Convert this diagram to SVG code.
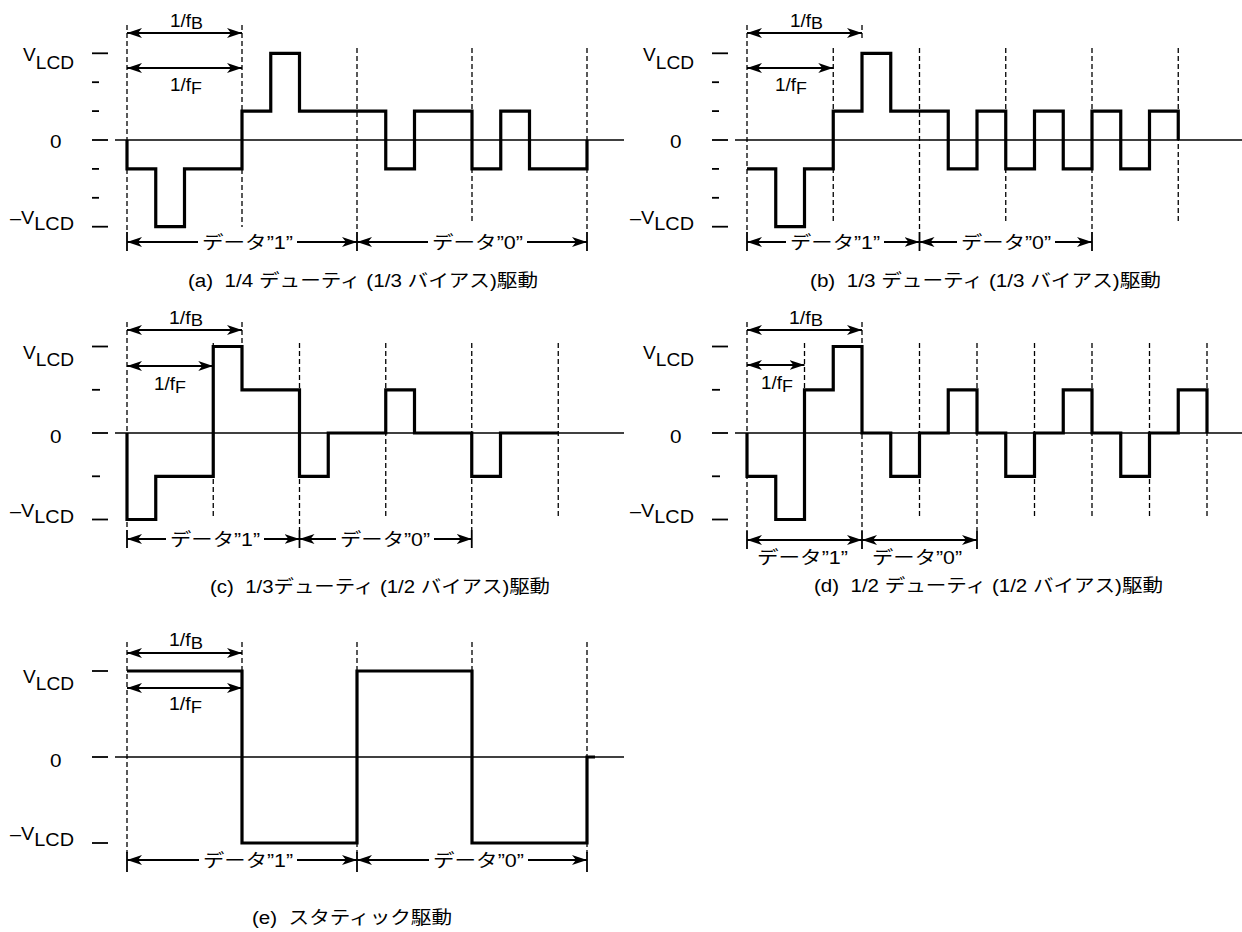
<svg xmlns="http://www.w3.org/2000/svg" width="1242" height="932" viewBox="0 0 1242 932">
<style>
.wave{fill:none;stroke:#000;stroke-width:3.2;stroke-linejoin:miter}
.ax{stroke:#000;stroke-width:1.5}
.tk{stroke:#000;stroke-width:1.8}
.dl{stroke:#000;stroke-width:1.3;stroke-dasharray:5 3}
.ar{stroke:#000;stroke-width:1.8;fill:none}
.a2{marker-start:url(#ah);marker-end:url(#ah)}
.as{marker-start:url(#ah)}
.ae{marker-end:url(#ah)}
text{font-family:"Liberation Sans","Noto Sans CJK JP",sans-serif;fill:#000}
.t{font-size:18px}
.f{font-size:17.5px}
.s{font-size:16.5px}
.c{font-size:18px}
.j{font-family:"Noto Sans CJK JP","Liberation Sans",sans-serif;font-size:18px}
</style>
<defs>
<marker id="ah" viewBox="0 0 15 10" refX="15" refY="5" markerWidth="15" markerHeight="10" markerUnits="userSpaceOnUse" orient="auto-start-reverse">
<path d="M0,0 L15,5 L0,10 L4,5 Z" fill="#000"/>
</marker>
</defs>

<!-- Panel (a) -->
<g id="panel-a">
<g id="a-axis">
<line class="tk" x1="92" y1="53.3" x2="108" y2="53.3"/>
<line class="tk" x1="92" y1="82.2" x2="99" y2="82.2"/>
<line class="tk" x1="92" y1="111.1" x2="99" y2="111.1"/>
<line class="tk" x1="92" y1="140" x2="108" y2="140"/>
<line class="tk" x1="92" y1="168.9" x2="99" y2="168.9"/>
<line class="tk" x1="92" y1="197.8" x2="99" y2="197.8"/>
<line class="tk" x1="92" y1="226.7" x2="108" y2="226.7"/>
<line class="ax" x1="115" y1="140" x2="624" y2="140"/>
<text class="t" x="23" y="61" textLength="51" lengthAdjust="spacingAndGlyphs">V<tspan dy="8">LCD</tspan></text>
<text class="t" x="50" y="148" textLength="11.5" lengthAdjust="spacingAndGlyphs">0</text>
<text class="t" x="10" y="224" textLength="64" lengthAdjust="spacingAndGlyphs">–V<tspan dy="6">LCD</tspan></text>
</g>
<g id="a-grid">
<line class="dl" x1="127" y1="25" x2="127" y2="232"/>
<line class="dl" x1="242" y1="25" x2="242" y2="227"/>
<line class="dl" x1="357" y1="48" x2="357" y2="232"/>
<line class="dl" x1="472" y1="48" x2="472" y2="223"/>
<line class="dl" x1="587" y1="48" x2="587" y2="232"/>
</g>
<path id="a-wave" class="wave" d="M127,140 V168.9 H155.75 V226.7 H184.5 V168.9 H242 V111.1 H270.75 V53.3 H299.5 V111.1 H385.75 V168.9 H414.5 V111.1 H472 V168.9 H500.75 V111.1 H529.5 V168.9 H587 V140"/>
<g id="a-dims">
<line class="ar a2" x1="127" y1="33" x2="242" y2="33"/>
<text class="f" x="170" y="26.5" textLength="33" lengthAdjust="spacingAndGlyphs">1/f<tspan class="s" dy="2.5">B</tspan></text>
<line class="ar a2" x1="127" y1="68" x2="242" y2="68"/>
<text class="f" x="170" y="91" textLength="32" lengthAdjust="spacingAndGlyphs">1/f<tspan class="s" dy="3">F</tspan></text>
<line class="tk" x1="127" y1="232" x2="127" y2="251"/>
<line class="tk" x1="357" y1="232" x2="357" y2="251"/>
<line class="tk" x1="587" y1="232" x2="587" y2="251"/>
<line class="ar as" x1="127" y1="242" x2="198" y2="242"/>
<line class="ar ae" x1="297" y1="242" x2="357" y2="242"/>
<text class="c" x="202" y="249" textLength="91" lengthAdjust="spacingAndGlyphs"><tspan class="j">データ</tspan>”1”</text>
<line class="ar as" x1="357" y1="242" x2="428" y2="242"/>
<line class="ar ae" x1="527" y1="242" x2="587" y2="242"/>
<text class="c" x="432" y="249" textLength="91" lengthAdjust="spacingAndGlyphs"><tspan class="j">データ</tspan>”0”</text>
</g>
<text id="a-cap" class="c" xml:space="preserve" x="188" y="287" textLength="350" lengthAdjust="spacingAndGlyphs">(a)  1/4 <tspan class="j">デューティ</tspan> (1/3 <tspan class="j">バイアス</tspan>)<tspan class="j">駆動</tspan></text>
</g>

<!-- Panel (b) -->
<g id="panel-b">
<g id="b-axis">
<line class="tk" x1="712" y1="53.3" x2="728" y2="53.3"/>
<line class="tk" x1="712" y1="82.2" x2="719" y2="82.2"/>
<line class="tk" x1="712" y1="111.1" x2="719" y2="111.1"/>
<line class="tk" x1="712" y1="140" x2="728" y2="140"/>
<line class="tk" x1="712" y1="168.9" x2="719" y2="168.9"/>
<line class="tk" x1="712" y1="197.8" x2="719" y2="197.8"/>
<line class="tk" x1="712" y1="226.7" x2="728" y2="226.7"/>
<line class="ax" x1="735" y1="140" x2="1242" y2="140"/>
<text class="t" x="643" y="61" textLength="51" lengthAdjust="spacingAndGlyphs">V<tspan dy="8">LCD</tspan></text>
<text class="t" x="670" y="148" textLength="11.5" lengthAdjust="spacingAndGlyphs">0</text>
<text class="t" x="630" y="224" textLength="64" lengthAdjust="spacingAndGlyphs">–V<tspan dy="6">LCD</tspan></text>
</g>
<g id="b-grid">
<line class="dl" x1="747" y1="25" x2="747" y2="232"/>
<line class="dl" x1="833.25" y1="48" x2="833.25" y2="223"/>
<line class="dl" x1="862" y1="25" x2="862" y2="38"/>
<line class="dl" x1="919.5" y1="48" x2="919.5" y2="232"/>
<line class="dl" x1="1005.75" y1="48" x2="1005.75" y2="223"/>
<line class="dl" x1="1092" y1="48" x2="1092" y2="232"/>
<line class="dl" x1="1178.25" y1="48" x2="1178.25" y2="223"/>
</g>
<path id="b-wave" class="wave" d="M747,168.9 H775.75 V226.7 H804.5 V168.9 H833.25 V111.1 H862 V53.3 H890.75 V111.1 H948.25 V168.9 H977 V111.1 H1005.75 V168.9 H1034.5 V111.1 H1063.25 V168.9 H1092 V111.1 H1120.75 V168.9 H1149.5 V111.1 H1178.25 V140"/>
<g id="b-dims">
<line class="ar a2" x1="747" y1="33" x2="862" y2="33"/>
<text class="f" x="790" y="26.5" textLength="33" lengthAdjust="spacingAndGlyphs">1/f<tspan class="s" dy="2.5">B</tspan></text>
<line class="ar a2" x1="747" y1="68" x2="833.25" y2="68"/>
<text class="f" x="775" y="91" textLength="32" lengthAdjust="spacingAndGlyphs">1/f<tspan class="s" dy="3">F</tspan></text>
<line class="tk" x1="747" y1="232" x2="747" y2="251"/>
<line class="tk" x1="919.5" y1="232" x2="919.5" y2="251"/>
<line class="tk" x1="1092" y1="232" x2="1092" y2="251"/>
<line class="ar as" x1="747" y1="242" x2="786" y2="242"/>
<line class="ar ae" x1="884" y1="242" x2="919.5" y2="242"/>
<text class="c" x="790" y="249" textLength="90" lengthAdjust="spacingAndGlyphs"><tspan class="j">データ</tspan>”1”</text>
<line class="ar as" x1="919.5" y1="242" x2="957" y2="242"/>
<line class="ar ae" x1="1055" y1="242" x2="1092" y2="242"/>
<text class="c" x="961" y="249" textLength="90" lengthAdjust="spacingAndGlyphs"><tspan class="j">データ</tspan>”0”</text>
</g>
<text id="b-cap" class="c" xml:space="preserve" x="810" y="287" textLength="351" lengthAdjust="spacingAndGlyphs">(b)  1/3 <tspan class="j">デューティ</tspan> (1/3 <tspan class="j">バイアス</tspan>)<tspan class="j">駆動</tspan></text>
</g>

<!-- Panel (c) -->
<g id="panel-c">
<g id="c-axis">
<line class="tk" x1="92" y1="346.5" x2="108" y2="346.5"/>
<line class="tk" x1="92" y1="389.8" x2="100" y2="389.8"/>
<line class="tk" x1="92" y1="433" x2="108" y2="433"/>
<line class="tk" x1="92" y1="476.3" x2="100" y2="476.3"/>
<line class="tk" x1="92" y1="519.5" x2="108" y2="519.5"/>
<line class="ax" x1="115" y1="433" x2="624" y2="433"/>
<text class="t" x="23" y="358.5" textLength="51" lengthAdjust="spacingAndGlyphs">V<tspan dy="7.5">LCD</tspan></text>
<text class="t" x="50" y="443" textLength="11.5" lengthAdjust="spacingAndGlyphs">0</text>
<text class="t" x="10" y="517" textLength="64" lengthAdjust="spacingAndGlyphs">–V<tspan dy="6">LCD</tspan></text>
</g>
<g id="c-grid">
<line class="dl" x1="127" y1="322" x2="127" y2="530"/>
<line class="dl" x1="213.25" y1="343" x2="213.25" y2="519"/>
<line class="dl" x1="242" y1="322" x2="242" y2="347"/>
<line class="dl" x1="299.5" y1="343" x2="299.5" y2="530"/>
<line class="dl" x1="385.75" y1="343" x2="385.75" y2="519"/>
<line class="dl" x1="471.75" y1="343" x2="471.75" y2="530"/>
<line class="dl" x1="558.25" y1="343" x2="558.25" y2="519"/>
</g>
<path id="c-wave" class="wave" d="M127,433 V519.5 H155.75 V476.3 H213.25 V346.5 H242 V389.8 H299.5 V476.3 H328.25 V433 H385.75 V389.8 H414.5 V433 H471.75 V476.3 H500.5 V433 H558.25"/>
<g id="c-dims">
<line class="ar a2" x1="127" y1="330" x2="242" y2="330"/>
<text class="f" x="169" y="323.5" textLength="34" lengthAdjust="spacingAndGlyphs">1/f<tspan class="s" dy="2.5">B</tspan></text>
<line class="ar a2" x1="127" y1="366" x2="213.25" y2="366"/>
<text class="f" x="154" y="390" textLength="32" lengthAdjust="spacingAndGlyphs">1/f<tspan class="s" dy="3">F</tspan></text>
<line class="tk" x1="127" y1="530" x2="127" y2="548"/>
<line class="tk" x1="299.5" y1="530" x2="299.5" y2="548"/>
<line class="tk" x1="471.75" y1="530" x2="471.75" y2="548"/>
<line class="ar as" x1="127" y1="539" x2="166" y2="539"/>
<line class="ar ae" x1="264" y1="539" x2="299.5" y2="539"/>
<text class="c" x="170" y="546" textLength="90" lengthAdjust="spacingAndGlyphs"><tspan class="j">データ</tspan>”1”</text>
<line class="ar as" x1="299.5" y1="539" x2="336" y2="539"/>
<line class="ar ae" x1="434" y1="539" x2="471.75" y2="539"/>
<text class="c" x="340" y="546" textLength="90" lengthAdjust="spacingAndGlyphs"><tspan class="j">データ</tspan>”0”</text>
</g>
<text id="c-cap" class="c" xml:space="preserve" x="210" y="593" textLength="340" lengthAdjust="spacingAndGlyphs">(c)  1/3<tspan class="j">デューティ</tspan> (1/2 <tspan class="j">バイアス</tspan>)<tspan class="j">駆動</tspan></text>
</g>

<!-- Panel (d) -->
<g id="panel-d">
<g id="d-axis">
<line class="tk" x1="712" y1="346.5" x2="728" y2="346.5"/>
<line class="tk" x1="712" y1="389.8" x2="720" y2="389.8"/>
<line class="tk" x1="712" y1="433" x2="728" y2="433"/>
<line class="tk" x1="712" y1="476.3" x2="720" y2="476.3"/>
<line class="tk" x1="712" y1="519.5" x2="728" y2="519.5"/>
<line class="ax" x1="735" y1="433" x2="1242" y2="433"/>
<text class="t" x="643" y="358.5" textLength="51" lengthAdjust="spacingAndGlyphs">V<tspan dy="7.5">LCD</tspan></text>
<text class="t" x="670" y="443" textLength="11.5" lengthAdjust="spacingAndGlyphs">0</text>
<text class="t" x="630" y="517" textLength="64" lengthAdjust="spacingAndGlyphs">–V<tspan dy="6">LCD</tspan></text>
</g>
<g id="d-grid">
<line class="dl" x1="747" y1="322" x2="747" y2="531"/>
<line class="dl" x1="804.5" y1="343" x2="804.5" y2="519"/>
<line class="dl" x1="862" y1="322" x2="862" y2="531"/>
<line class="dl" x1="919.5" y1="343" x2="919.5" y2="519"/>
<line class="dl" x1="977" y1="343" x2="977" y2="531"/>
<line class="dl" x1="1034.5" y1="343" x2="1034.5" y2="519"/>
<line class="dl" x1="1092" y1="343" x2="1092" y2="519"/>
<line class="dl" x1="1149.5" y1="343" x2="1149.5" y2="519"/>
<line class="dl" x1="1207" y1="343" x2="1207" y2="519"/>
</g>
<path id="d-wave" class="wave" d="M747,433 V476.3 H775.75 V519.5 H804.5 V389.8 H833.25 V346.5 H862 V433 H890.75 V476.3 H919.5 V433 H948.25 V389.8 H977 V433 H1005.75 V476.3 H1034.5 V433 H1063.25 V389.8 H1092 V433 H1120.75 V476.3 H1149.5 V433 H1178.25 V389.8 H1207 V433"/>
<g id="d-dims">
<line class="ar a2" x1="747" y1="330" x2="862" y2="330"/>
<text class="f" x="789" y="323.5" textLength="34" lengthAdjust="spacingAndGlyphs">1/f<tspan class="s" dy="2.5">B</tspan></text>
<line class="ar a2" x1="747" y1="365" x2="804.5" y2="365"/>
<text class="f" x="761" y="389" textLength="32" lengthAdjust="spacingAndGlyphs">1/f<tspan class="s" dy="3">F</tspan></text>
<line class="tk" x1="747" y1="531" x2="747" y2="549"/>
<line class="tk" x1="862" y1="531" x2="862" y2="549"/>
<line class="tk" x1="977" y1="531" x2="977" y2="549"/>
<line class="ar a2" x1="747" y1="540" x2="862" y2="540"/>
<line class="ar a2" x1="862" y1="540" x2="977" y2="540"/>
<text class="c" x="757" y="564" textLength="91" lengthAdjust="spacingAndGlyphs"><tspan class="j">データ</tspan>”1”</text>
<text class="c" x="872" y="564" textLength="90" lengthAdjust="spacingAndGlyphs"><tspan class="j">データ</tspan>”0”</text>
</g>
<text id="d-cap" class="c" xml:space="preserve" x="814" y="592" textLength="349" lengthAdjust="spacingAndGlyphs">(d)  1/2 <tspan class="j">デューティ</tspan> (1/2 <tspan class="j">バイアス</tspan>)<tspan class="j">駆動</tspan></text>
</g>

<!-- Panel (e) -->
<g id="panel-e">
<g id="e-axis">
<line class="tk" x1="92" y1="671" x2="108" y2="671"/>
<line class="tk" x1="92" y1="757" x2="108" y2="757"/>
<line class="tk" x1="92" y1="843" x2="108" y2="843"/>
<line class="ax" x1="115" y1="757" x2="624" y2="757"/>
<text class="t" x="23" y="683" textLength="51" lengthAdjust="spacingAndGlyphs">V<tspan dy="7">LCD</tspan></text>
<text class="t" x="50" y="767" textLength="11.5" lengthAdjust="spacingAndGlyphs">0</text>
<text class="t" x="10" y="840" textLength="64" lengthAdjust="spacingAndGlyphs">–V<tspan dy="6">LCD</tspan></text>
</g>
<g id="e-grid">
<line class="dl" x1="127" y1="642" x2="127" y2="853"/>
<line class="dl" x1="242" y1="642" x2="242" y2="843"/>
<line class="dl" x1="357" y1="642" x2="357" y2="853"/>
<line class="dl" x1="472" y1="642" x2="472" y2="843"/>
<line class="dl" x1="587" y1="642" x2="587" y2="853"/>
</g>
<path id="e-wave" class="wave" d="M127,671 H242 V843 H357 V671 H472 V843 H587 V757 H595"/>
<g id="e-dims">
<line class="ar a2" x1="127" y1="653" x2="242" y2="653"/>
<text class="f" x="169" y="646" textLength="34" lengthAdjust="spacingAndGlyphs">1/f<tspan class="s" dy="2.5">B</tspan></text>
<line class="ar a2" x1="127" y1="688" x2="242" y2="688"/>
<text class="f" x="169" y="710" textLength="33" lengthAdjust="spacingAndGlyphs">1/f<tspan class="s" dy="3">F</tspan></text>
<line class="tk" x1="127" y1="852" x2="127" y2="872"/>
<line class="tk" x1="357" y1="852" x2="357" y2="872"/>
<line class="tk" x1="587" y1="852" x2="587" y2="872"/>
<line class="ar as" x1="127" y1="860" x2="199" y2="860"/>
<line class="ar ae" x1="297" y1="860" x2="357" y2="860"/>
<text class="c" x="203" y="867" textLength="90" lengthAdjust="spacingAndGlyphs"><tspan class="j">データ</tspan>”1”</text>
<line class="ar as" x1="357" y1="860" x2="429" y2="860"/>
<line class="ar ae" x1="528" y1="860" x2="587" y2="860"/>
<text class="c" x="433" y="867" textLength="91" lengthAdjust="spacingAndGlyphs"><tspan class="j">データ</tspan>”0”</text>
</g>
<text id="e-cap" class="c" xml:space="preserve" x="252" y="924" textLength="200" lengthAdjust="spacingAndGlyphs">(e)  <tspan class="j">スタティック駆動</tspan></text>
</g>
</svg>
